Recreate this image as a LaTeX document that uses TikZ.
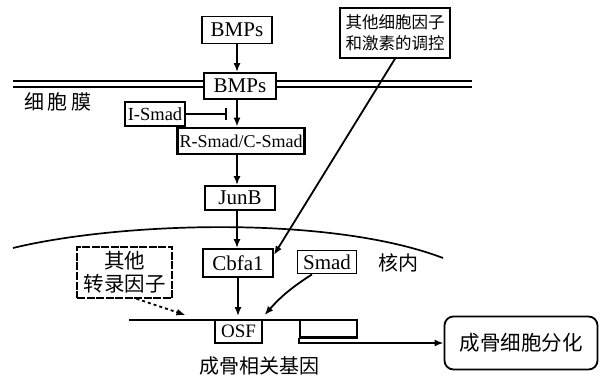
\documentclass[tikz,border=0pt]{standalone}
\usepackage{fontspec}
\setmainfont{Liberation Serif}
\newfontfamily\cjk{Noto Sans CJK SC}
\usetikzlibrary{arrows.meta,positioning}

\tikzset{
  box/.style={draw, line width=1.8pt, fill=white, inner sep=1pt,
    font=\fontsize{21}{22}\selectfont},
  thickbox/.style={box, line width=2.6pt},
  arr/.style={line width=1.8pt, -{Latex[length=9pt,width=7pt]}},
  inhibit/.style={line width=1.3pt, -{Bar[width=12pt,line width=1.6pt]}},
  zh/.style={font=\cjk\fontsize{20}{23}\selectfont}
}

\begin{document}
\begin{tikzpicture}[x=1pt, y=-1pt]
        \useasboundingbox (0,0) rectangle (602,379);

        % membrane and nucleus
        \draw[line width=2pt] (13,81) -- (472,81);
        \draw[line width=2pt] (13,87) -- (472,87);
        \draw[line width=1.7pt] (13,248) .. controls (120,222) and (330,215) .. (443,258);

        \node[zh] (membrane) at (58,102) {细\,胞\,膜};
        \node[zh] (nucleus) at (398,263) {核内};

        % signalling chain
        \node[box, minimum width=70pt, minimum height=27pt] (bmpsout) at (237,30) {BMPs};
        \node[box, minimum width=72pt, minimum height=26pt] (bmpsin) at (240,86) {BMPs};
        \node[thickbox, minimum width=60pt, minimum height=24pt,
          font=\fontsize{18.5}{19}\selectfont] (ismad) at (155,114) {I-Smad};
        \node[thickbox, minimum width=127pt, minimum height=26pt,
          font=\fontsize{18}{19}\selectfont] (rsmad) at (241,141) {R-Smad/C-Smad};
        \node[box, minimum width=70pt, minimum height=24pt] (junb) at (240,198) {JunB};
        \node[box, minimum width=70pt, minimum height=28pt] (cbfa) at (238,263) {Cbfa1};
        \node[box, minimum width=59pt, minimum height=23pt] (smad) at (327,262) {Smad};
        \node[box, line width=1.5pt, minimum width=110pt, minimum height=50pt, align=center,
          font=\cjk\fontsize{16.5}{21}\selectfont] (reg) at (395,33) {其他细胞因子\\和激素的调控};
        \node[box, line width=1.5pt, dash pattern=on 8pt off 1.5pt, minimum width=95pt,
          minimum height=51pt, align=center,
          font=\cjk\fontsize{20.5}{23}\selectfont] (otf) at (124.5,272.5) {其他\\转录因子};

        % gene
        \draw[line width=1.8pt] (129,320) -- (357,320);
        \node[box, minimum width=47pt, minimum height=23pt,
          font=\fontsize{19}{20}\selectfont] (osf) at (238.5,331.5) {OSF};
        \node[box, minimum width=57pt, minimum height=17pt] (gene) at (328.5,328.5) {};
        \draw[line width=3pt] (gene.south west) -- (gene.south east);
        \node[zh] (genelabel) at (259,366) {成骨相关基因};
        \node[box, rounded corners=9pt, minimum width=153pt, minimum height=53pt,
          font=\cjk\fontsize{20.5}{23}\selectfont] (diff) at (521,343) {成骨细胞分化};

        \coordinate (block) at (227,114);

        % connectors
        \draw[arr] (bmpsout.south) -- (bmpsout.south |- bmpsin.north);
        \draw[arr] (bmpsout.south |- bmpsin.south) -- (bmpsout.south |- rsmad.north);
        \draw[inhibit] (ismad.east) -- (block);
        \draw[arr] (bmpsout.south |- rsmad.south) -- (bmpsout.south |- junb.north);
        \draw[arr] (bmpsout.south |- junb.south) -- (bmpsout.south |- cbfa.north);
        \draw[arr] (reg.south) -- ([yshift=8pt]cbfa.east);
        \draw[arr] (cbfa.south) -- ([yshift=3pt]cbfa.south |- osf.north);
        \draw[arr] ([xshift=-15pt]smad.south) to[bend right=8] ([xshift=26pt,yshift=4pt]osf.north);
        \draw[arr, dashed] ([xshift=12pt]otf.south) -- ([xshift=-53pt,yshift=4pt]osf.north);
        \draw[arr] (gene.south west) |- (diff.west);
    \end{tikzpicture}
\end{document}
